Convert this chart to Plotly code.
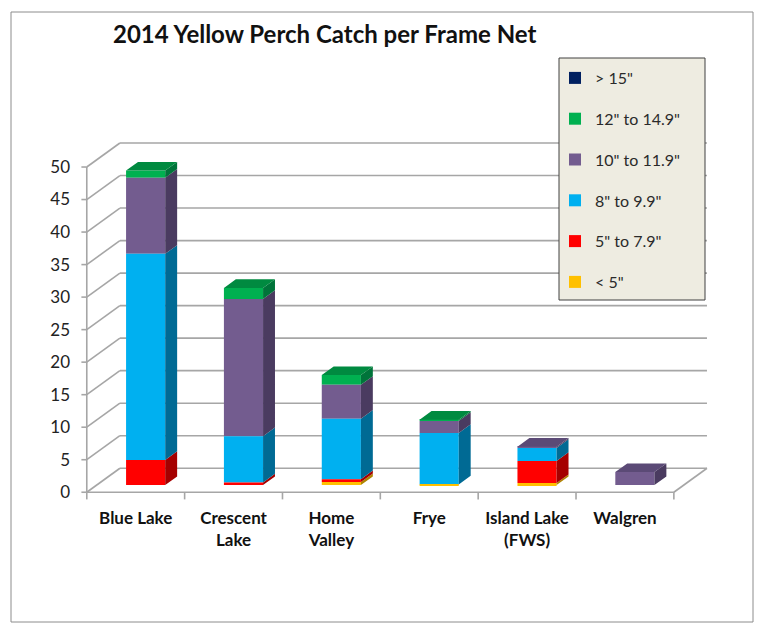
import plotly.graph_objects as go

# ---------------- data ----------------
lakes = ["Blue Lake", "Crescent<br>Lake", "Home<br>Valley", "Frye", "Island Lake<br>(FWS)", "Walgren"]
size_classes = ['> 15"', '12" to 14.9"', '10" to 11.9"', '8" to 9.9"', '5" to 7.9"', '< 5"']
gt15 = [0.0, 0.0, 0.0, 0.0, 0.0, 0.0]
in12_149 = [1.1, 1.7, 1.5, 0.2, 0.0, 0.0]
in10_119 = [11.7, 21.1, 5.2, 1.85, 0.2, 2.0]
in8_99 = [31.7, 7.1, 9.3, 7.9, 2.0, 0.0]
in5_79 = [3.85, 0.4, 0.45, 0.0, 3.4, 0.0]
lt5 = [0.0, 0.0, 0.45, 0.1, 0.3, 0.0]
y_ticks = list(range(0, 51, 5))

series = {
    '> 15"': gt15,
    '12" to 14.9"': in12_149,
    '10" to 11.9"': in10_119,
    '8" to 9.9"': in8_99,
    '5" to 7.9"': in5_79,
    '< 5"': lt5,
}
front_col = {'> 15"': "#002060", '12" to 14.9"': "#00b050", '10" to 11.9"': "#735c8f",
             '8" to 9.9"': "#00b0f0", '5" to 7.9"': "#ff0000", '< 5"': "#ffc000"}
side_col = {'> 15"': "#001238", '12" to 14.9"': "#00743a", '10" to 11.9"': "#4a3b60",
            '8" to 9.9"': "#006a94", '5" to 7.9"': "#a50000", '< 5"': "#b08400"}
top_col = {'> 15"': "#001848", '12" to 14.9"': "#008a40", '10" to 11.9"': "#5b4a76",
           '8" to 9.9"': "#0090c8", '5" to 7.9"': "#cc0000", '< 5"': "#d8a200"}

# ---------------- pseudo-3D geometry (axis units) ----------------
DX, DY = 0.3385, 3.69          # floor depth offset
Z_FRONT, Z_BACK = 0.30, 0.66   # bar depth position within floor
BAR_W = 0.4
fx, fy = Z_FRONT * DX, Z_FRONT * DY
sx, sy = (Z_BACK - Z_FRONT) * DX, (Z_BACK - Z_FRONT) * DY
n = len(lakes)
GRID = "#a6a6a6"

stack_order = list(reversed(size_classes))  # bottom -> top
centers = [i + 0.5 + fx for i in range(n)]
cum = [0.0] * n
bases = {}
for s in stack_order:
    bases[s] = [fy + c for c in cum]
    cum = [c + v for c, v in zip(cum, series[s])]

topmost = []
for i in range(n):
    t = None
    for s in stack_order:
        if series[s][i] > 0:
            t = s
    topmost.append(t)

fig = go.Figure()

for s in size_classes:
    fig.add_trace(go.Bar(
        x=centers, y=series[s], base=bases[s], width=BAR_W, name=s,
        marker=dict(color=front_col[s], line=dict(width=0)),
        legendgroup=s, hoverinfo="skip"))

for s in stack_order:
    xs, ys, xt, yt = [], [], [], []
    for i in range(n):
        v = series[s][i]
        if v <= 0:
            continue
        r = centers[i] + BAR_W / 2
        l = centers[i] - BAR_W / 2
        b = bases[s][i]
        t = b + v
        xs += [r, r + sx, r + sx, r, r, None]
        ys += [b, b + sy, t + sy, t, b, None]
        if topmost[i] == s:
            xt += [l, r, r + sx, l + sx, l, None]
            yt += [t, t, t + sy, t + sy, t, None]
    if xs:
        fig.add_trace(go.Scatter(x=xs, y=ys, mode="lines", fill="toself",
                                 fillcolor=side_col[s], line=dict(width=0),
                                 showlegend=False, hoverinfo="skip"))
    if xt:
        fig.add_trace(go.Scatter(x=xt, y=yt, mode="lines", fill="toself",
                                 fillcolor=top_col[s], line=dict(width=0),
                                 showlegend=False, hoverinfo="skip"))

shapes = []
for t in y_ticks:
    shapes.append(dict(type="line", x0=DX, y0=t + DY, x1=n + DX, y1=t + DY,
                       line=dict(color=GRID, width=1.6), layer="below"))
    shapes.append(dict(type="line", x0=0, y0=t, x1=DX, y1=t + DY,
                       line=dict(color=GRID, width=1.6), layer="below"))
    shapes.append(dict(type="line", x0=-0.055, y0=t, x1=0, y1=t,
                       line=dict(color=GRID, width=1.6), layer="below"))
shapes.append(dict(type="line", x0=0, y0=0, x1=0, y1=y_ticks[-1],
                   line=dict(color=GRID, width=1.6), layer="below"))
shapes.append(dict(type="line", x0=0, y0=0, x1=n, y1=0,
                   line=dict(color=GRID, width=1.6), layer="below"))
shapes.append(dict(type="line", x0=n, y0=0, x1=n + DX, y1=DY,
                   line=dict(color=GRID, width=1.6), layer="below"))
for i in range(n + 1):
    shapes.append(dict(type="line", x0=i, y0=0, x1=i, y1=-1.1,
                       line=dict(color=GRID, width=1.6), layer="below"))

# page body has an 8px margin: the figure is placed at (8, 8) on screen
OFF = 8
W, H = 755, 616
L, R, T, B = 69, 50, 133, 122
pw, ph = W - L - R, H - T - B
def px(x):  # screen x -> paper x
    return (x - OFF - L) / pw
def py(y):  # screen y -> paper y
    return (H - B - (y - OFF)) / ph

shapes.append(dict(type="rect", xref="paper", yref="paper",
                   x0=px(11), x1=px(753), y0=py(622), y1=py(12),
                   line=dict(color="#8c8c8c", width=1), layer="below"))
shapes.append(dict(type="rect", xref="paper", yref="paper",
                   x0=px(756), x1=px(761), y0=py(17), y1=py(8),
                   line=dict(width=0), fillcolor="#000000", layer="above"))
# legend panel
shapes.append(dict(type="rect", xref="paper", yref="paper",
                   x0=px(559), x1=px(705), y0=py(300), y1=py(58),
                   line=dict(color="#404040", width=1), fillcolor="#eeece1",
                   layer="above"))

fig.update_layout(
    width=W, height=H,
    margin=dict(l=L, r=R, t=T, b=B, autoexpand=False),
    paper_bgcolor="white", plot_bgcolor="rgba(0,0,0,0)",
    barmode="overlay",
    font=dict(family="Lato, 'Open Sans', sans-serif", color="#222222"),
    title=dict(text="<b>2014 Yellow Perch Catch per Frame Net</b>",
               x=(113 - OFF) / W, xanchor="left", xref="container",
               y=1 - (35 - OFF) / H, yanchor="middle", yref="container",
               font=dict(size=24, color="#111111")),
    xaxis=dict(range=[-0.1, 6.4], tickvals=[i + 0.5 for i in range(n)],
               ticktext=["<b>" + c + "</b>" for c in lakes],
               showgrid=False, zeroline=False, showline=False, ticks="",
               tickfont=dict(size=17, color="#111111"), ticklabelstandoff=4,
               fixedrange=True),
    yaxis=dict(range=[-1.5, 54], tickvals=y_ticks, showgrid=False, zeroline=False,
               showline=False, ticks="", tickfont=dict(size=17, color="#222222"),
               ticklabelstandoff=6, fixedrange=True),
    legend=dict(x=px(555), y=py(61), xanchor="left", yanchor="top",
                bgcolor="rgba(0,0,0,0)", borderwidth=0,
                font=dict(size=16, color="#2a2a2a"), tracegroupgap=17,
                traceorder="grouped"),
    shapes=shapes,
    showlegend=True,
)

fig.write_html("out.html")
